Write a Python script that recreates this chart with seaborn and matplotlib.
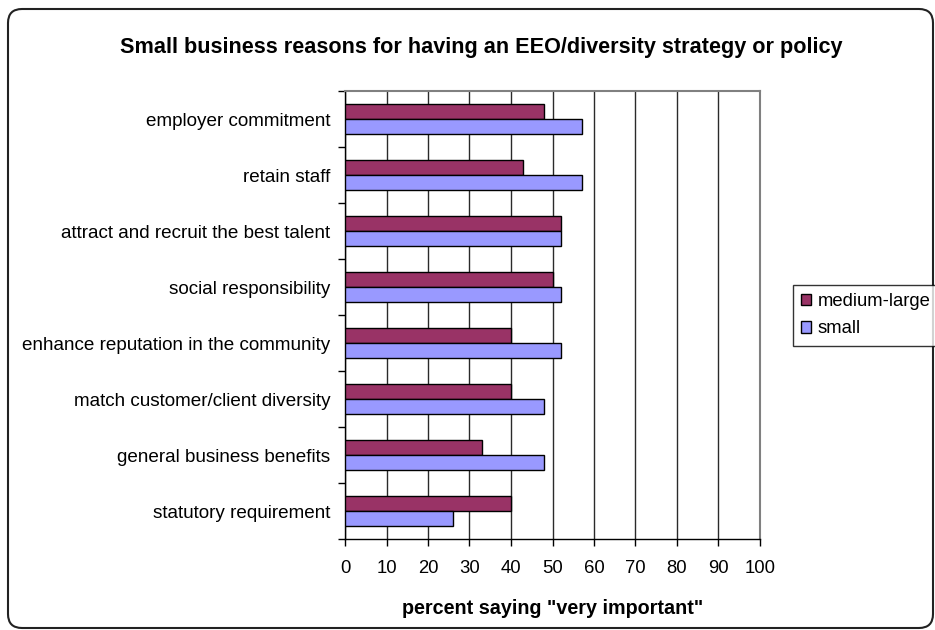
import matplotlib
matplotlib.use("Agg")
import matplotlib.pyplot as plt
import matplotlib.transforms as mtransforms
from matplotlib.patches import FancyBboxPatch, Patch
import seaborn as sns
import pandas as pd
import numpy as np

# Survey data: share of respondents rating each reason "very important"
reasons = [
    "employer commitment",
    "retain staff",
    "attract and recruit the best talent",
    "social responsibility",
    "enhance reputation in the community",
    "match customer/client diversity",
    "general business benefits",
    "statutory requirement",
]
medium_large = [48, 43, 52, 50, 40, 40, 33, 40]
small = [57, 57, 52, 52, 52, 48, 48, 26]
groups = ["medium-large", "small"]
x_ticks = [0, 10, 20, 30, 40, 50, 60, 70, 80, 90, 100]

df = pd.DataFrame({
    "reason": reasons * 2,
    "group": [groups[0]] * len(reasons) + [groups[1]] * len(reasons),
    "percent": medium_large + small,
})

sns.set_theme(style="white")
plt.rcParams["font.family"] = ["Liberation Sans", "DejaVu Sans"]
plt.rcParams["text.color"] = "black"
plt.rcParams["axes.labelcolor"] = "black"
plt.rcParams["xtick.color"] = "black"
plt.rcParams["ytick.color"] = "black"

W, H = 935, 630
fig = plt.figure(figsize=(W / 100, H / 100), dpi=100)
fig.patch.set_facecolor("white")

ax = fig.add_axes([345 / W, 1 - 539 / H, (760 - 345) / W, (539 - 91) / H])

palette = {"medium-large": "#993366", "small": "#9999FF"}
sns.barplot(
    data=df, x="percent", y="reason", hue="group",
    order=reasons, hue_order=groups, palette=palette,
    orient="h", width=0.54, edgecolor="black", linewidth=1.0,
    saturation=1, errorbar=None, legend=False, ax=ax, zorder=3,
)

ax.set_xlim(0, 100)
ax.set_ylim(len(reasons) - 0.5, -0.5)
ax.set_xticks(x_ticks)
ax.set_xticklabels([str(t) for t in x_ticks], fontsize=13.3, color="black")

# category labels sit between boundary tick marks
ax.set_yticks(np.arange(-0.5, len(reasons) + 0.5, 1.0))
ax.set_yticklabels([])
ax.set_yticks(np.arange(len(reasons)), minor=True)
ax.set_yticklabels(reasons, minor=True, fontsize=13.6, color="black")
ax.tick_params(axis="y", which="major", direction="out", length=5, width=1, color="black", left=True)
ax.tick_params(axis="y", which="minor", length=0, pad=10.5)
ax.tick_params(axis="x", which="major", direction="out", length=5, width=1, color="black", bottom=True, pad=10)

ax.xaxis.grid(True, color="#2a2a2a", linewidth=1.0)
ax.yaxis.grid(False)
ax.set_axisbelow(True)

for side in ("top", "right"):
    ax.spines[side].set_color("#808080")
    ax.spines[side].set_linewidth(1.5)
for side in ("left", "bottom"):
    ax.spines[side].set_color("black")
    ax.spines[side].set_linewidth(1.0)

ax.set_ylabel("")
ax.set_xlabel('percent saying "very important"', fontsize=14.2, fontweight="bold",
              color="black", labelpad=16)

fig.text(481 / W, 1 - 48 / H,
         "Small business reasons for having an EEO/diversity strategy or policy",
         ha="center", va="center", fontsize=15.6, fontweight="bold", color="black")

handles = [Patch(facecolor=palette[g], edgecolor="black", linewidth=1.0, label=g) for g in groups]
fig.legend(handles=handles, loc="upper left", bbox_to_anchor=(793 / W, 1 - 285 / H),
           frameon=True, fancybox=False, edgecolor="black", fontsize=13.3,
           handlelength=0.55, handleheight=0.55, handletextpad=0.35,
           borderpad=0.45, labelspacing=0.55, borderaxespad=0, labelcolor="black")
leg = fig.legends[0]
leg.get_frame().set_linewidth(1.0)

# rounded outer border in pixel coordinates
border = FancyBboxPatch((8, 2), 925, 619,
                        boxstyle="round,pad=0,rounding_size=14",
                        transform=mtransforms.IdentityTransform(),
                        facecolor="none", edgecolor="#222222", linewidth=1.5)
fig.patches.append(border)

fig.savefig("out.png", dpi=100)
